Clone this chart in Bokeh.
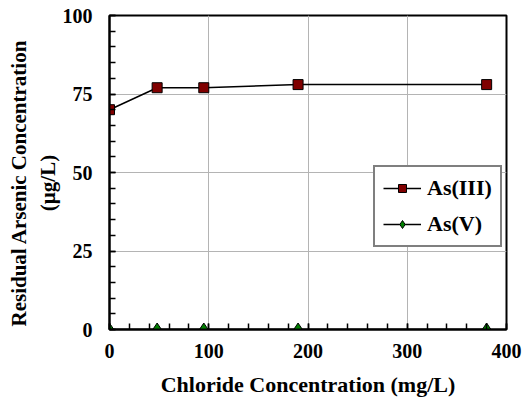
from bokeh.plotting import figure
from bokeh.models import Range1d, FixedTicker, Legend, LegendItem
from bokeh.embed import file_html
from bokeh.resources import INLINE

chloride = [0, 48, 95, 190, 380]
as3 = [70, 77, 77, 78, 78]
as5 = [0, 0, 0, 0, 0]

x_ticks = [0, 100, 200, 300, 400]
y_ticks = [0, 25, 50, 75, 100]
x_minor = list(range(0, 401, 20))
y_minor = list(range(0, 101, 5))

FONT = "Liberation Serif"
NB = "\u00a0" * 4

p = figure(width=524, height=408, output_backend="svg", toolbar_location=None,
           x_range=Range1d(0, 400), y_range=Range1d(0, 100),
           min_border_left=109, min_border_top=15, min_border_right=18, min_border_bottom=79)
p.outline_line_color = "black"
p.outline_line_width = 2

for ax, ticks, minor in ((p.xaxis[0], x_ticks, x_minor), (p.yaxis[0], y_ticks, y_minor)):
    ax.ticker = FixedTicker(ticks=ticks, minor_ticks=minor)
    ax.axis_line_color = "black"
    ax.axis_line_width = 2
    ax.major_tick_in = 6
    ax.major_tick_out = 0
    ax.minor_tick_in = 6
    ax.minor_tick_out = 0
    ax.major_tick_line_color = "black"
    ax.minor_tick_line_color = "black"
    ax.major_tick_line_width = 1.5
    ax.minor_tick_line_width = 1.5
    ax.major_label_text_font = FONT
    ax.major_label_text_font_style = "bold"
    ax.major_label_text_font_size = "20px"
    ax.major_label_text_color = "black"
    ax.axis_label_text_font = FONT
    ax.axis_label_text_font_style = "bold"
    ax.axis_label_text_color = "black"

p.xaxis.axis_label_text_font_size = "22px"
p.yaxis.axis_label_text_font_size = "21px"
p.xaxis.axis_label = "Chloride Concentration (mg/L)"
p.yaxis.axis_label = "Residual Arsenic Concentration" + NB + "\n(µg/L)" + NB
p.xaxis.major_label_standoff = 14
p.yaxis.major_label_standoff = 17
p.xaxis.axis_label_standoff = 11
p.yaxis.axis_label_standoff = 0

p.xgrid.ticker = FixedTicker(ticks=x_ticks)
p.ygrid.ticker = FixedTicker(ticks=y_ticks)
p.grid.grid_line_color = "#b4b4b4"
p.grid.grid_line_width = 1

l1 = p.line(chloride, as3, line_color="black", line_width=1.5)
m1 = p.scatter(chloride, as3, marker="square", size=10, fill_color="#800000", line_color="black", line_width=1)
l2 = p.line(chloride, as5, line_color="black", line_width=1.5)
m2 = p.scatter(chloride, as5, marker="diamond", size=13, fill_color="#008000", line_color="black", line_width=1)

legend = Legend(items=[LegendItem(label="As(III)", renderers=[l1, m1]),
                       LegendItem(label="As(V)", renderers=[l2, m2])],
                location=(264, 82))
legend.border_line_color = "black"
legend.border_line_width = 2
legend.label_text_font = FONT
legend.label_text_font_style = "bold"
legend.label_text_font_size = "22px"
legend.label_text_color = "black"
legend.glyph_width = 38
legend.glyph_height = 20
legend.label_standoff = 6
legend.spacing = 10
legend.padding = 8
legend.margin = 0
legend.background_fill_alpha = 1
p.add_layout(legend, "center")

open("out.html", "w").write(file_html(p, INLINE))
